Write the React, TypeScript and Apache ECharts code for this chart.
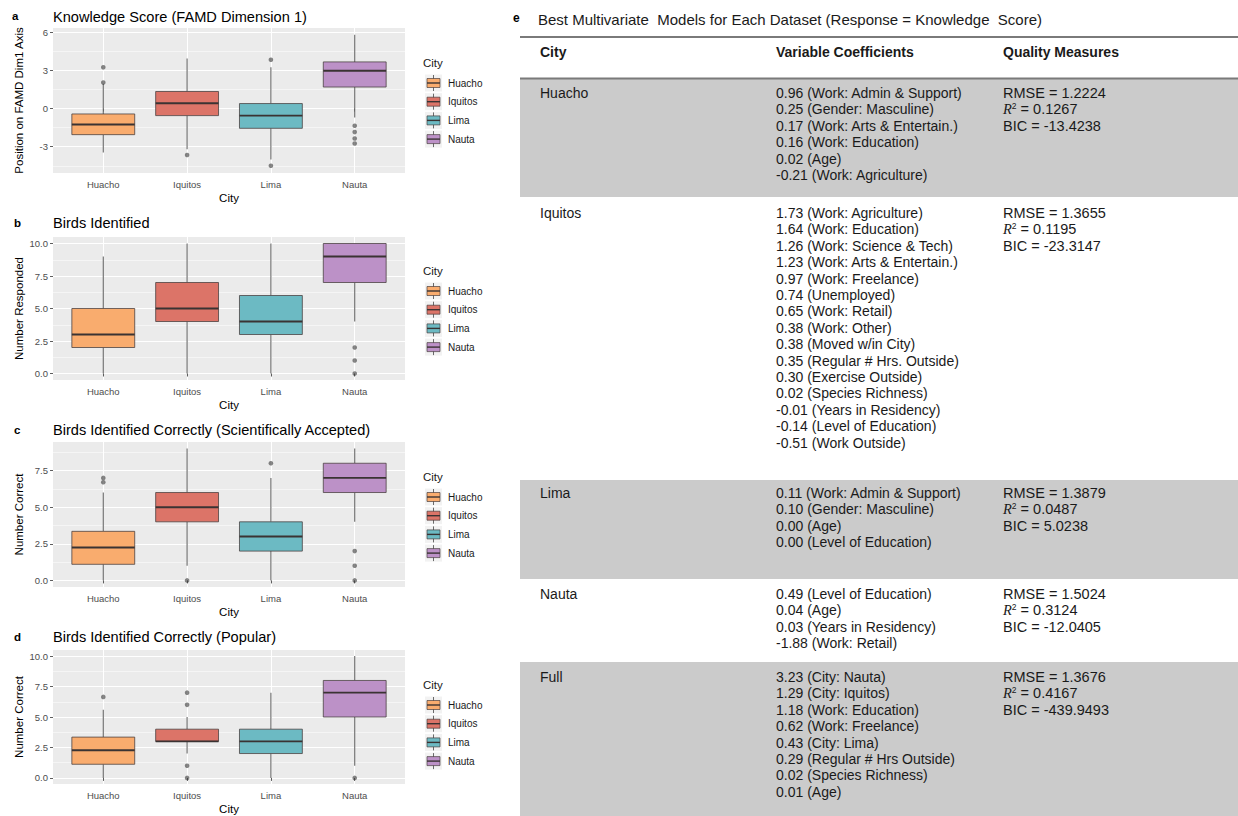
import React, { useEffect, useRef } from 'react';
import * as echarts from 'echarts';

// ---------------- Data ----------------
const cities = ['Huacho', 'Iquitos', 'Lima', 'Nauta'];
const cityColors = ['#F9AC6E', '#DC7468', '#6CBAC3', '#BC91C7'];

// box statistics per city: [lower whisker, Q1, median, Q3, upper whisker]
const knowledgeBoxes = [
  [-3.45, -2.05, -1.25, -0.42, 1.95],
  [-3.2, -0.55, 0.42, 1.35, 3.95],
  [-4.0, -1.55, -0.55, 0.4, 3.25],
  [-0.7, 1.7, 2.98, 3.68, 5.82],
];
const knowledgeOutliers = [[3.25, 2.05], [-3.65], [3.85, -4.5], [-1.35, -1.85, -2.35, -2.75]];

const identifiedBoxes = [
  [0, 2, 3, 5, 9],
  [0, 4, 5, 7, 10],
  [0, 3, 4, 6, 10],
  [4, 7, 9, 10, 10],
];
const identifiedOutliers = [[], [], [], [2, 1, 0]];

const scientificBoxes = [
  [0, 1.1, 2.25, 3.35, 6],
  [1, 4, 5, 6, 9],
  [0, 2, 3, 4, 7],
  [4, 6, 7, 8, 9],
];
const scientificOutliers = [[7.0, 6.7], [0], [8], [2, 1, 0]];

const popularBoxes = [
  [0, 1.12, 2.27, 3.35, 5.6],
  [2, 3, 3, 4, 5],
  [0, 2, 3, 4, 7],
  [1, 5, 7, 8, 10],
];
const popularOutliers = [[6.65], [7, 6, 1, 0], [], [0]];

const panelBoxes = [knowledgeBoxes, identifiedBoxes, scientificBoxes, popularBoxes];
const panelOutliers = [knowledgeOutliers, identifiedOutliers, scientificOutliers, popularOutliers];

const panelLetters = ['a', 'b', 'c', 'd'];
const panelTitles = [
  'Knowledge Score (FAMD Dimension 1)',
  'Birds Identified',
  'Birds Identified Correctly (Scientifically Accepted)',
  'Birds Identified Correctly (Popular)',
];
const yAxisTitles = ['Position on FAMD Dim1 Axis', 'Number Responded', 'Number Correct', 'Number Correct'];
const xAxisTitle = 'City';
const legendTitle = 'City';

const yRanges = [[-5.07, 6.35], [-0.5, 10.5], [-0.45, 9.45], [-0.5, 10.5]];
const yMajorTicks = [[-3, 0, 3, 6], [0, 2.5, 5, 7.5, 10], [0, 2.5, 5, 7.5], [0, 2.5, 5, 7.5, 10]];
const yMinorTicks = [[-4.5, -1.5, 1.5, 4.5], [1.25, 3.75, 6.25, 8.75], [1.25, 3.75, 6.25, 8.75], [1.25, 3.75, 6.25, 8.75]];
const yDecimals = [0, 1, 1, 1];
const xPositions = [1, 2, 3, 4];

// table
const tableLetter = 'e';
const tableTitle = 'Best Multivariate  Models for Each Dataset (Response = Knowledge  Score)';
const tableHeaders = ['City', 'Variable Coefficients', 'Quality Measures'];
const tableRows = ['Huacho', 'Iquitos', 'Lima', 'Nauta', 'Full'];
const huachoCoefs = [
  '0.96 (Work: Admin & Support)',
  '0.25 (Gender: Masculine)',
  '0.17 (Work: Arts & Entertain.)',
  '0.16 (Work: Education)',
  '0.02 (Age)',
  '-0.21 (Work: Agriculture)',
];
const iquitosCoefs = [
  '1.73 (Work: Agriculture)',
  '1.64 (Work: Education)',
  '1.26 (Work: Science & Tech)',
  '1.23 (Work: Arts & Entertain.)',
  '0.97 (Work: Freelance)',
  '0.74 (Unemployed)',
  '0.65 (Work: Retail)',
  '0.38 (Work: Other)',
  '0.38 (Moved w/in City)',
  '0.35 (Regular # Hrs. Outside)',
  '0.30 (Exercise Outside)',
  '0.02 (Species Richness)',
  '-0.01 (Years in Residency)',
  '-0.14 (Level of Education)',
  '-0.51 (Work Outside)',
];
const limaCoefs = [
  '0.11 (Work: Admin & Support)',
  '0.10 (Gender: Masculine)',
  '0.00 (Age)',
  '0.00 (Level of Education)',
];
const nautaCoefs = [
  '0.49 (Level of Education)',
  '0.04 (Age)',
  '0.03 (Years in Residency)',
  '-1.88 (Work: Retail)',
];
const fullCoefs = [
  '3.23 (City: Nauta)',
  '1.29 (City: Iquitos)',
  '1.18 (Work: Education)',
  '0.62 (Work: Freelance)',
  '0.43 (City: Lima)',
  '0.29 (Regular # Hrs Outside)',
  '0.02 (Species Richness)',
  '0.01 (Age)',
];
const rowCoefs = [huachoCoefs, iquitosCoefs, limaCoefs, nautaCoefs, fullCoefs];
const rmseValues = ['1.2224', '1.3655', '1.3879', '1.5024', '1.3676'];
const r2Values = ['0.1267', '0.1195', '0.0487', '0.3124', '0.4167'];
const bicValues = ['-13.4238', '-23.3147', '5.0238', '-12.0405', '-439.9493'];

// ---------------- Layout ----------------
const FONT = 'Liberation Sans, Arial, sans-serif';
const GRID_LEFT = 53;
const GRID_WIDTH = 352;
const gridTops = [28, 237, 442, 650];
const gridHeights = [145, 143, 145, 145];
const titleTops = [9, 215, 422, 629];
const letterYs = [16, 223, 430, 637];
const letterXs = [12, 14, 14, 14];

const rowTops = [79, 197, 480, 579, 662];
const rowBottoms = [197, 480, 579, 662, 816];
const rowShaded = [true, false, true, false, true];
const COL_X = [540, 776, 1003];
const LINE_H = 16.4;
const TFS = 14;

function buildOption() {
  const grid: any[] = [];
  const xAxis: any[] = [];
  const yAxis: any[] = [];
  const series: any[] = [];
  const title: any[] = [];
  const graphic: any[] = [];

  for (let k = 0; k < 4; k++) {
    grid.push({
      left: GRID_LEFT,
      top: gridTops[k],
      width: GRID_WIDTH,
      height: gridHeights[k],
      show: true,
      backgroundColor: '#EBEBEB',
      borderWidth: 0,
    });
    xAxis.push({
      gridIndex: k,
      type: 'value',
      min: 0.4,
      max: 4.6,
      axisLine: { show: false },
      axisTick: { show: true, length: 3, customValues: xPositions, lineStyle: { color: '#333', width: 0.8 } },
      axisLabel: {
        customValues: xPositions,
        formatter: (v: number) => cities[Math.round(v) - 1] || '',
        fontSize: 9.5,
        color: '#4d4d4d',
        margin: 6,
        fontFamily: FONT,
      },
      splitLine: { show: true, customValues: xPositions, lineStyle: { color: '#ffffff', width: 1.1 } },
      name: xAxisTitle,
      nameLocation: 'middle',
      nameGap: 19,
      nameTextStyle: { fontSize: 11.5, color: '#000', fontFamily: FONT },
    });
    const dec = yDecimals[k];
    yAxis.push({
      gridIndex: k,
      type: 'value',
      min: yRanges[k][0],
      max: yRanges[k][1],
      axisLine: { show: false },
      axisTick: { show: true, length: 3, customValues: yMajorTicks[k], lineStyle: { color: '#333', width: 0.8 } },
      axisLabel: {
        customValues: yMajorTicks[k],
        formatter: (v: number) => v.toFixed(dec),
        fontSize: 9.5,
        color: '#4d4d4d',
        margin: 5,
        fontFamily: FONT,
      },
      splitLine: { show: true, customValues: yMajorTicks[k], lineStyle: { color: '#ffffff', width: 1.1 } },
      name: yAxisTitles[k],
      nameLocation: 'middle',
      nameGap: 28,
      nameTextStyle: { fontSize: 11.5, color: '#000', fontFamily: FONT },
    });
    yAxis.push({
      gridIndex: k,
      type: 'value',
      min: yRanges[k][0],
      max: yRanges[k][1],
      position: 'right',
      axisLine: { show: false },
      axisTick: { show: false, customValues: yMinorTicks[k] },
      axisLabel: { show: false, customValues: yMinorTicks[k] },
      splitLine: { show: true, customValues: yMinorTicks[k], lineStyle: { color: '#ffffff', width: 0.5 } },
    });

    const boxes = panelBoxes[k];
    series.push({
      type: 'custom',
      xAxisIndex: k,
      yAxisIndex: 2 * k,
      z: 3,
      encode: { x: 0, y: [1, 2, 3, 4, 5] },
      data: boxes.map((b, i) => [xPositions[i], ...b]),
      renderItem: (params: any, api: any) => {
        const xv = api.value(0);
        const idx = Math.round(xv) - 1;
        const pMin = api.coord([xv, api.value(1)]);
        const pQ1 = api.coord([xv, api.value(2)]);
        const pMed = api.coord([xv, api.value(3)]);
        const pQ3 = api.coord([xv, api.value(4)]);
        const pMax = api.coord([xv, api.value(5)]);
        const half = api.size([0.75, 0])[0] / 2;
        const cx = pMed[0];
        return {
          type: 'group',
          children: [
            { type: 'line', shape: { x1: cx, y1: pMin[1], x2: cx, y2: pQ1[1] }, style: { stroke: '#6a6a6a', lineWidth: 1.1 } },
            { type: 'line', shape: { x1: cx, y1: pQ3[1], x2: cx, y2: pMax[1] }, style: { stroke: '#6a6a6a', lineWidth: 1.1 } },
            {
              type: 'rect',
              shape: { x: cx - half, y: pQ3[1], width: 2 * half, height: pQ1[1] - pQ3[1] },
              style: { fill: cityColors[idx], stroke: 'rgba(70,60,60,0.85)', lineWidth: 0.9 },
            },
            { type: 'line', shape: { x1: cx - half, y1: pMed[1], x2: cx + half, y2: pMed[1] }, style: { stroke: '#3a3333', lineWidth: 1.9 } },
          ],
        };
      },
    });
    const pts: number[][] = [];
    panelOutliers[k].forEach((vals, i) => vals.forEach((v) => pts.push([xPositions[i], v])));
    series.push({
      type: 'scatter',
      xAxisIndex: k,
      yAxisIndex: 2 * k,
      z: 4,
      symbol: 'circle',
      symbolSize: 4.6,
      itemStyle: { color: 'rgba(55,55,55,0.75)' },
      data: pts,
    });

    title.push({
      text: panelTitles[k],
      left: GRID_LEFT,
      top: titleTops[k],
      padding: 0,
      textStyle: { fontSize: 14.6, fontWeight: 'normal', color: '#000', fontFamily: FONT },
    });

    graphic.push({
      type: 'text',
      x: letterXs[k],
      y: letterYs[k],
      style: { text: panelLetters[k], fontSize: 11.5, fontWeight: 'bold', fill: '#000', fontFamily: FONT, verticalAlign: 'middle' },
    });

    // legend
    const c = gridTops[k] + gridHeights[k] / 2;
    graphic.push({
      type: 'text',
      x: 423,
      y: c - 37.5,
      style: { text: legendTitle, fontSize: 11.5, fill: '#1a1a1a', fontFamily: FONT, verticalAlign: 'middle' },
    });
    cities.forEach((city, i) => {
      const cy = c - 17.5 + i * 18.7;
      graphic.push({ type: 'rect', shape: { x: 425, y: cy - 8.5, width: 17, height: 17 }, style: { fill: '#F2F2F2' } });
      graphic.push({ type: 'line', shape: { x1: 433.5, y1: cy - 8, x2: 433.5, y2: cy + 8 }, style: { stroke: '#6a6a6a', lineWidth: 1 } });
      graphic.push({
        type: 'rect',
        shape: { x: 427, y: cy - 4.5, width: 13, height: 9 },
        style: { fill: cityColors[i], stroke: 'rgba(70,60,60,0.85)', lineWidth: 0.8 },
      });
      graphic.push({ type: 'line', shape: { x1: 427, y1: cy, x2: 440, y2: cy }, style: { stroke: '#3a3333', lineWidth: 1.4 } });
      graphic.push({
        type: 'text',
        x: 448,
        y: cy,
        style: { text: city, fontSize: 10, fill: '#1a1a1a', fontFamily: FONT, verticalAlign: 'middle' },
      });
    });
  }

  // ---------------- Table ----------------
  tableRows.forEach((_, r) => {
    if (rowShaded[r]) {
      graphic.push({
        type: 'rect',
        shape: { x: 520, y: rowTops[r], width: 718, height: rowBottoms[r] - rowTops[r] },
        style: { fill: '#CBCBCB' },
      });
    }
  });
  graphic.push({ type: 'line', shape: { x1: 520, y1: 37, x2: 1238, y2: 37 }, style: { stroke: '#7a7a7a', lineWidth: 2 } });
  graphic.push({ type: 'line', shape: { x1: 520, y1: 78.5, x2: 1238, y2: 78.5 }, style: { stroke: '#7a7a7a', lineWidth: 2 } });
  graphic.push({
    type: 'text',
    x: 513,
    y: 18,
    style: { text: tableLetter, fontSize: 12, fontWeight: 'bold', fill: '#000', fontFamily: FONT, verticalAlign: 'middle' },
  });
  graphic.push({
    type: 'text',
    x: 538,
    y: 19,
    style: { text: tableTitle, fontSize: 15, fill: '#1a1a1a', fontFamily: FONT, verticalAlign: 'middle' },
  });
  tableHeaders.forEach((h, j) => {
    graphic.push({
      type: 'text',
      x: COL_X[j],
      y: 52,
      style: { text: h, fontSize: TFS, fontWeight: 'bold', fill: '#1a1a1a', fontFamily: FONT, verticalAlign: 'middle' },
    });
  });
  const firstLine = [93, 213, 493, 594, 677];
  tableRows.forEach((name, r) => {
    const y0 = firstLine[r] - LINE_H / 2;
    graphic.push({
      type: 'text',
      x: COL_X[0],
      y: y0,
      style: { text: name, fontSize: TFS, fill: '#1a1a1a', fontFamily: FONT, verticalAlign: 'top', lineHeight: LINE_H },
    });
    graphic.push({
      type: 'text',
      x: COL_X[1],
      y: y0,
      style: {
        text: rowCoefs[r].join('\n'),
        fontSize: TFS,
        fill: '#1a1a1a',
        fontFamily: FONT,
        verticalAlign: 'top',
        lineHeight: LINE_H,
      },
    });
    graphic.push({
      type: 'text',
      x: COL_X[2],
      y: y0,
      style: {
        text: `RMSE = ${rmseValues[r]}\n{i|R}{s|2} = ${r2Values[r]}\nBIC = ${bicValues[r]}`,
        fontSize: 14.5,
        fill: '#1a1a1a',
        fontFamily: FONT,
        verticalAlign: 'top',
        lineHeight: LINE_H,
        rich: {
          i: { fontSize: 14.5, fontStyle: 'italic', fontFamily: 'Liberation Serif, serif', fill: '#1a1a1a', lineHeight: LINE_H },
          s: { fontSize: 8.5, fill: '#1a1a1a', fontFamily: FONT, verticalAlign: 'top', lineHeight: 10 },
        },
      },
    });
  });

  return {
    animation: false,
    backgroundColor: '#ffffff',
    textStyle: { fontFamily: FONT },
    title,
    grid,
    xAxis,
    yAxis,
    series,
    graphic,
  };
}

export default function App() {
  const ref = useRef<HTMLDivElement>(null);
  useEffect(() => {
    if (!ref.current) return;
    const chart = echarts.init(ref.current, undefined, { renderer: 'svg' });
    chart.setOption(buildOption() as any);
    return () => chart.dispose();
  }, []);
  return (
    <div
      ref={ref}
      style={{ position: 'fixed', left: 0, top: 0, width: 1238, height: 816, background: '#fff' }}
    />
  );
}
